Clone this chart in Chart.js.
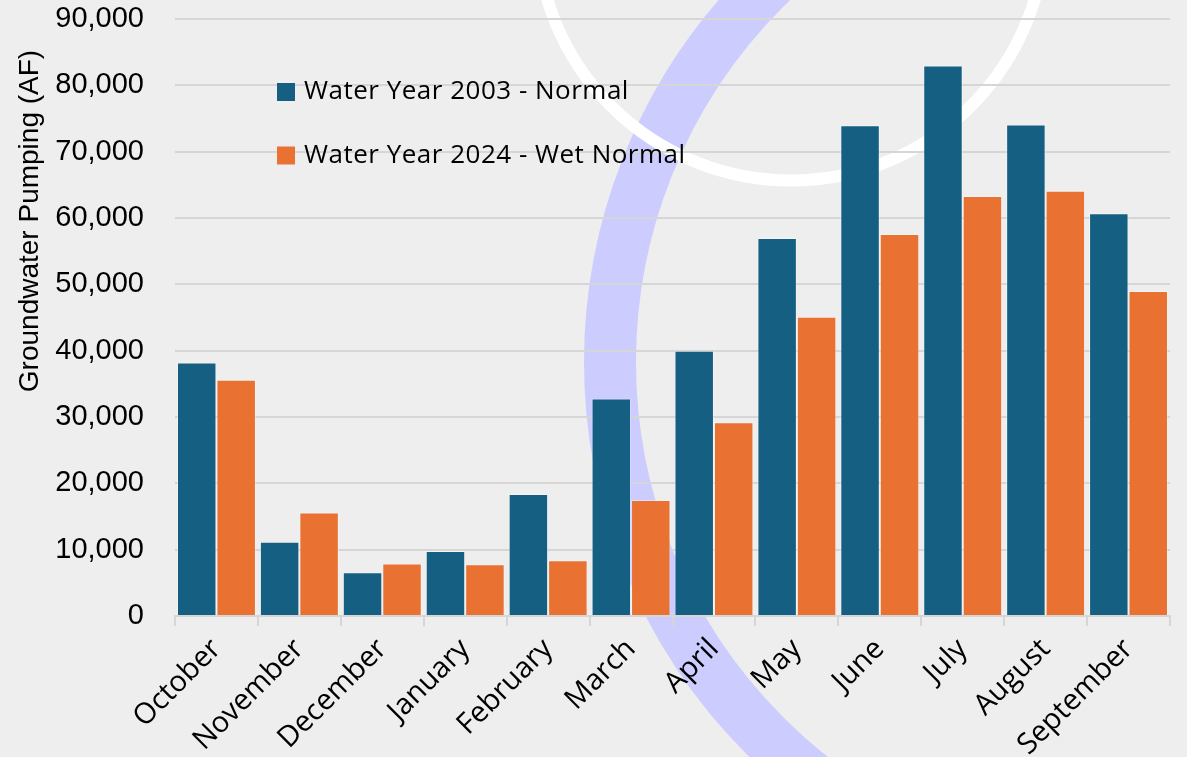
<!DOCTYPE html>
<html>
<head>
<meta charset="utf-8">
<title>Groundwater Pumping by Month</title>
<script src="https://cdn.jsdelivr.net/npm/chart.js@4.4.1/dist/chart.umd.min.js"></script>
<style>
  html, body { margin: 0; padding: 0; background: #eeeeee; }
  #wrap { width: 1187px; height: 757px; position: relative; }
  canvas { display: block; }
</style>
</head>
<body>
<div id="wrap"><canvas id="chart" width="1187" height="757"></canvas></div>
<script>
// Monthly groundwater pumping (acre-feet), water year order
const months = ['October', 'November', 'December', 'January', 'February', 'March',
                'April', 'May', 'June', 'July', 'August', 'September'];
const pumping2003 = [38200, 11200, 6600, 9800, 18400, 32800, 40000, 57000, 74000, 83000, 74100, 60700];
const pumping2024 = [35600, 15600, 7900, 7800, 8400, 17500, 29200, 45100, 57600, 63300, 64100, 49000];
const seriesNames = ['Water Year 2003 - Normal', 'Water Year 2024 - Wet Normal'];
const seriesColors = ['#156082', '#E97132'];
const yAxisTitle = 'Groundwater Pumping (AF)';
const yMax = 90000;
const yStep = 10000;

const TICK_FONT = 'Liberation Sans, Arial, sans-serif';
const LABEL_FONT = 'Open Sans, sans-serif';

// Background fill plus the two decorative rings behind the plot
const backdrop = {
  id: 'backdrop',
  beforeDraw(chart) {
    const ctx = chart.ctx;
    ctx.save();
    ctx.fillStyle = '#eeeeee';
    ctx.fillRect(0, 0, chart.width, chart.height);
    ctx.beginPath();
    ctx.arc(1138, 362, 528, 0, Math.PI * 2);
    ctx.strokeStyle = '#ccccff';
    ctx.lineWidth = 52;
    ctx.stroke();
    ctx.beginPath();
    ctx.arc(791, -74, 254.5, 0, Math.PI * 2);
    ctx.strokeStyle = '#ffffff';
    ctx.lineWidth = 12;
    ctx.stroke();
    ctx.restore();
  }
};

// Legend drawn inside the plot area, upper left
const innerLegend = {
  id: 'innerLegend',
  afterDatasetsDraw(chart) {
    const ctx = chart.ctx;
    ctx.save();
    ctx.font = '26px ' + LABEL_FONT;
    ctx.letterSpacing = '0.5px';
    ctx.textBaseline = 'middle';
    ctx.textAlign = 'left';
    chart.data.datasets.forEach((ds, i) => {
      const y = 92 + i * 63.5;
      ctx.fillStyle = ds.backgroundColor;
      ctx.fillRect(277, y - 9, 18, 18);
      ctx.fillStyle = '#000000';
      ctx.fillText(ds.label, 304, y);
    });
    ctx.restore();
  }
};

// Vertical axis title
const axisTitle = {
  id: 'axisTitle',
  afterDraw(chart) {
    const ctx = chart.ctx;
    ctx.save();
    ctx.translate(30, 221);
    ctx.rotate(-Math.PI / 2);
    ctx.font = '28px ' + TICK_FONT;
    ctx.fillStyle = '#000000';
    ctx.textAlign = 'center';
    ctx.textBaseline = 'middle';
    ctx.fillText(yAxisTitle, 0, 0);
    ctx.restore();
  }
};

new Chart(document.getElementById('chart'), {
  type: 'bar',
  data: {
    labels: months,
    datasets: [
      {
        label: seriesNames[0],
        data: pumping2003,
        backgroundColor: seriesColors[0],
        borderColor: 'rgba(255,255,255,0.35)',
        borderWidth: 1
      },
      {
        label: seriesNames[1],
        data: pumping2024,
        backgroundColor: seriesColors[1],
        borderColor: 'rgba(255,255,255,0.35)',
        borderWidth: 1
      }
    ]
  },
  options: {
    responsive: false,
    animation: false,
    devicePixelRatio: 1,
    layout: { padding: { top: 19, right: 17, left: 0, bottom: 0 } },
    datasets: { bar: { categoryPercentage: 0.952, barPercentage: 1.0 } },
    plugins: {
      legend: { display: false },
      tooltip: { enabled: false },
      title: { display: false }
    },
    scales: {
      x: {
        grid: {
          display: true,
          drawOnChartArea: false,
          drawTicks: true,
          tickLength: 10,
          color: '#d6d6d6',
          lineWidth: 2,
          offset: true
        },
        border: { display: true, color: '#d6d6d6', width: 2 },
        ticks: {
          color: '#000000',
          font: { family: LABEL_FONT, size: 29 },
          minRotation: 45,
          maxRotation: 45,
          autoSkip: false,
          padding: 6
        },
        afterFit(scale) {
          scale.height = 141;
          scale.paddingLeft = 0;
          scale.paddingRight = 0;
        }
      },
      y: {
        min: 0,
        max: yMax,
        grid: { color: '#d6d6d6', lineWidth: 2, drawTicks: false },
        border: { display: false },
        ticks: {
          stepSize: yStep,
          color: '#000000',
          padding: 31,
          font: { family: TICK_FONT, size: 29 },
          callback: (v) => v.toLocaleString('en-US')
        },
        afterFit(scale) {
          scale.width = 175;
          scale.paddingTop = 0;
          scale.paddingBottom = 0;
        }
      }
    }
  },
  plugins: [backdrop, innerLegend, axisTitle]
});
</script>
</body>
</html>
